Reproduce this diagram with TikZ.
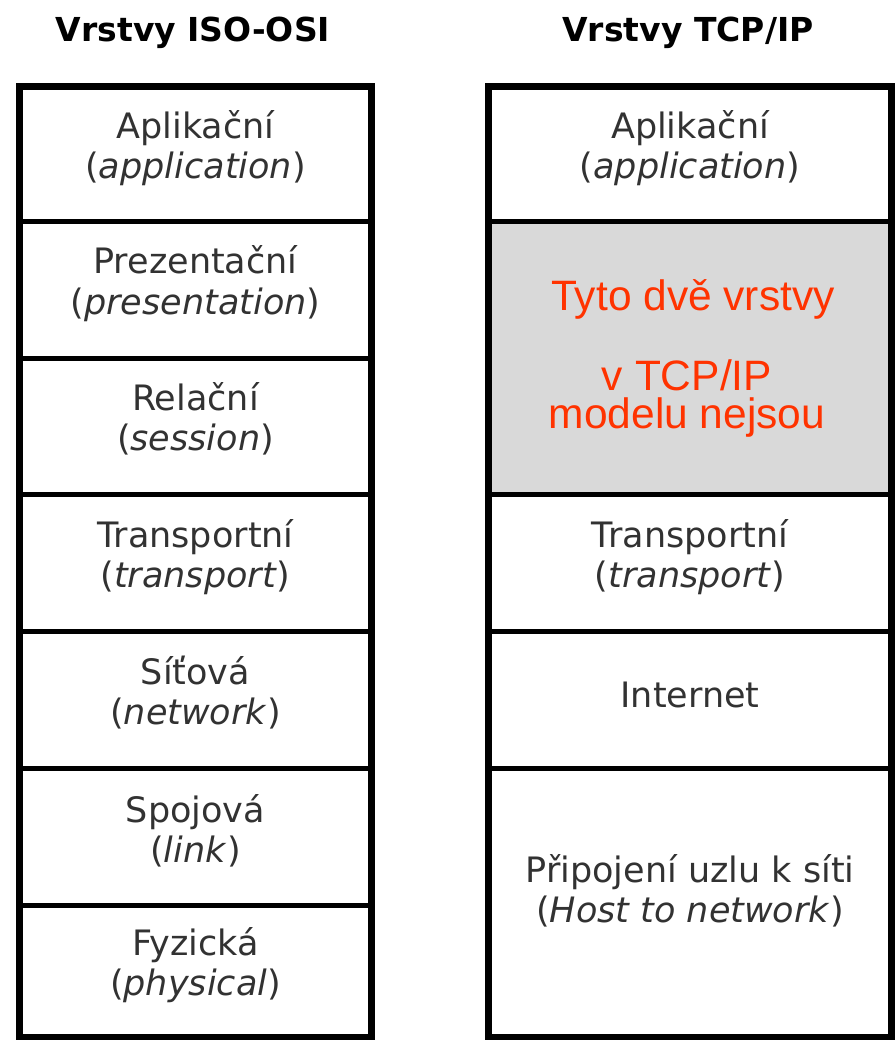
\documentclass[tikz,border=0pt]{standalone}
\usepackage{fontspec}
\setmainfont{DejaVu Sans}
\newfontfamily\notefont{Liberation Sans}
\definecolor{notered}{RGB}{255,51,0}
\definecolor{absentgray}{RGB}{217,217,217}
\definecolor{labelink}{RGB}{50,50,50}
\begin{document}
\begin{tikzpicture}[x=1pt,y=-1pt,
  layerbox/.style={draw=black, line width=5pt, inner sep=0pt, outer sep=0pt,
    anchor=north west, minimum width=#1},
  osibox/.style={layerbox=352pt},
  tcpbox/.style={layerbox=403pt},
  frame/.style={draw=black, line width=6.5pt},
  layertext/.style={anchor=base, align=center, inner sep=0pt, text=labelink,
    font=\fontsize{35}{40}\selectfont},
  heading/.style={anchor=base, inner sep=0pt,
    font=\bfseries\fontsize{33}{40}\selectfont},
  note/.style={anchor=base, inner sep=0pt, text=notered,
    text height=30pt, text depth=2pt,
    font=\notefont\fontsize{42.5}{38}\selectfont}]
\useasboundingbox (0,0) rectangle (895,1040);

% column headings
\node[heading] (osihead) at (193,42) {Vrstvy ISO-OSI};
\node[heading] (tcphead) at (688,42) {Vrstvy TCP/IP};

% ISO-OSI layers
\node[osibox, minimum height=135.5pt] (osi1) at (19.5,86.5) {};
\node[osibox, minimum height=136pt]   (osi2) at (19.5,222) {};
\node[osibox, minimum height=136.5pt] (osi3) at (19.5,358) {};
\node[osibox, minimum height=136.5pt] (osi4) at (19.5,494.5) {};
\node[osibox, minimum height=137pt]   (osi5) at (19.5,631) {};
\node[osibox, minimum height=137pt]   (osi6) at (19.5,768) {};
\node[osibox, minimum height=132.5pt] (osi7) at (19.5,905) {};
\draw[frame] (osi1.north west) rectangle (osi7.south east);

% TCP/IP layers
\node[tcpbox, minimum height=135pt] (tcp1) at (488.5,86.5) {};
\node[tcpbox, minimum height=273pt, fill=absentgray] (tcp2) at (488.5,221.5) {};
\node[tcpbox, minimum height=136.5pt] (tcp3) at (488.5,494.5) {};
\node[tcpbox, minimum height=137pt]   (tcp4) at (488.5,631) {};
\node[tcpbox, minimum height=269.5pt] (tcp5) at (488.5,768) {};
\draw[frame] (tcp1.north west) rectangle (tcp5.south east);

% ISO-OSI labels (anchored on the baseline of the second line)
\node[layertext] (osi1t) at ([yshift=-92pt]osi1.north) {Aplikační\\(\textit{application})};
\node[layertext] (osi2t) at ([yshift=-92pt]osi2.north) {Prezentační\\(\textit{presentation})};
\node[layertext] (osi3t) at ([yshift=-92pt]osi3.north) {Relační\\(\textit{session})};
\node[layertext] (osi4t) at ([yshift=-93pt]osi4.north) {Transportní\\(\textit{transport})};
\node[layertext] (osi5t) at ([yshift=-93pt]osi5.north) {Síťová\\(\textit{network})};
\node[layertext] (osi6t) at ([yshift=-94pt]osi6.north) {Spojová\\(\textit{link})};
\node[layertext] (osi7t) at ([yshift=-90pt]osi7.north) {Fyzická\\(\textit{physical})};

% TCP/IP labels
\node[layertext] (tcp1t) at ([yshift=-92pt]tcp1.north) {Aplikační\\(\textit{application})};
\node[note] (tcp2a) at (693,310) {Tyto dvě vrstvy};
\node[note] (tcp2b) at (687,390) {v TCP/IP};
\node[note] (tcp2c) at (687,428) {modelu nejsou};
\node[layertext] (tcp3t) at ([yshift=-93pt]tcp3.north) {Transportní\\(\textit{transport})};
\node[layertext] (tcp4t) at ([yshift=-76pt]tcp4.north) {Internet};
\node[layertext] (tcp5t) at ([yshift=-154pt]tcp5.north) {Připojení uzlu k síti\\(\textit{Host to network})};
\end{tikzpicture}
\end{document}
